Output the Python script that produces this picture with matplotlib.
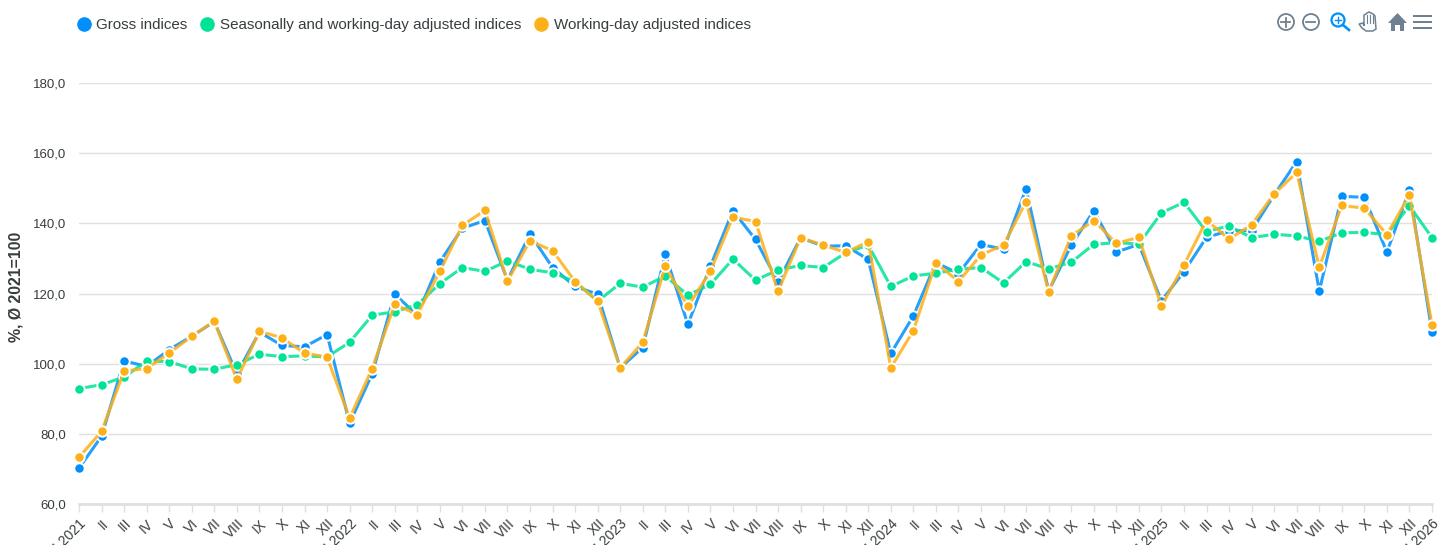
import matplotlib
matplotlib.use("Agg")
import matplotlib.pyplot as plt
from matplotlib.lines import Line2D
from matplotlib.patches import Circle, Polygon, Rectangle
from matplotlib.transforms import ScaledTranslation

plt.rcParams['font.family'] = ['Liberation Sans', 'DejaVu Sans']

MONTHS = ["I", "II", "III", "IV", "V", "VI", "VII", "VIII", "IX", "X", "XI", "XII"]
YEARS = [2021, 2022, 2023, 2024, 2025, 2026]

gross = [
    70.2, 79.3, 100.8, 99.2, 104, 107.8, 112, 97.1, 109, 105.2, 104.8, 108.3,
    83, 97.1, 119.8, 113.8, 129, 138.6, 140.8, 123.8, 137, 127.4, 122, 119.8,
    98.8, 104.6, 131.2, 111.2, 127.8, 143.6, 135.4, 123.3, 135.9, 133.5, 133.6, 129.7,
    102.9, 113.6, 128.8, 125.7, 134, 132.6, 149.9, 120.7, 133.7, 143.6, 131.8, 134,
    117.9, 126.2, 136, 137.9, 137.9, 148.1, 157.6, 120.7, 147.7, 147.4, 131.8, 149.5,
    109,
]
seasonal = [
    92.9, 94, 96.2, 100.7, 100.6, 98.5, 98.4, 99.7, 102.7, 102, 102.2, 101.9,
    106.1, 113.8, 114.8, 116.8, 122.8, 127.4, 126.3, 129.3, 126.9, 125.9, 123.4, 117.8,
    122.9, 121.8, 125, 119.5, 122.6, 129.8, 123.8, 126.7, 128, 127.4, 131.6, 133.8,
    122, 125, 125.8, 126.9, 127.4, 123, 129.1, 127, 128.9, 134, 134.5, 134.1,
    143, 146, 137.6, 139.3, 135.9, 136.9, 136.4, 134.9, 137.3, 137.4, 136.8, 145,
    135.9,
]
working_day = [
    73.3, 80.7, 97.9, 98.6, 103, 107.8, 112.1, 95.5, 109.2, 107.4, 103, 101.9,
    84.5, 98.6, 116.9, 114, 126.3, 139.4, 143.7, 123.5, 135, 132.2, 123.4, 117.8,
    98.8, 106.1, 127.8, 116.3, 126.3, 141.8, 140.5, 120.6, 135.9, 133.8, 131.7, 134.8,
    98.8, 109.4, 128.8, 123.4, 131, 133.8, 146.2, 120.4, 136.4, 140.8, 134.3, 136,
    116.4, 128.1, 140.9, 135.5, 139.6, 148.4, 154.5, 127.5, 145.1, 144.3, 136.8, 148,
    111,
]
series_names = ["Gross indices", "Seasonally and working-day adjusted indices", "Working-day adjusted indices"]
series_colors = ["#008FFB", "#00E396", "#FEB019"]
y_ticks = [60, 80, 100, 120, 140, 160, 180]

W, H = 1450, 545
TEXT = "#373d3f"
GRID = "#e0e0e0"
ICON = "#6e8192"


def tickLabels():
    labels = []
    for i in range(len(gross)):
        if i % 12 == 0:
            labels.append("I " + str(YEARS[i // 12]))
        else:
            labels.append(MONTHS[i % 12])
    return labels


def drawIcons(fig):
    # toolbar in the top right corner, pixel coordinates
    ov = fig.add_axes([0, 0, 1, 1], zorder=5)
    ov.set_xlim(0, W)
    ov.set_ylim(H, 0)
    ov.axis("off")
    # zoom in / zoom out
    for cx in (1286, 1311):
        ov.add_patch(Circle((cx, 22), 8, fill=False, ec=ICON, lw=1.3))
        ov.plot([cx - 4.5, cx + 4.5], [22, 22], color=ICON, lw=1.3)
    ov.plot([1286, 1286], [17.5, 26.5], color=ICON, lw=1.3)
    # selection zoom
    ov.add_patch(Circle((1338, 20), 6.5, fill=False, ec=series_colors[0], lw=1.6))
    ov.plot([1343, 1349], [25, 30], color=series_colors[0], lw=1.9)
    ov.plot([1335, 1341], [20, 20], color=series_colors[0], lw=1)
    ov.plot([1338, 1338], [17, 23], color=series_colors[0], lw=1)
    # pan hand
    hand = [(1359, 24), (1363, 23), (1364, 26), (1364, 15), (1366, 14), (1367, 13),
            (1369, 12), (1371, 13), (1373, 14), (1375, 16), (1376, 29), (1373, 31),
            (1366, 31), (1362, 28)]
    ov.add_patch(Polygon(hand, closed=True, fill=False, ec=ICON, lw=1.1))
    for fx in (1367, 1370.5, 1373):
        ov.plot([fx, fx], [15, 23], color=ICON, lw=0.8)
    # home
    ov.add_patch(Polygon([(1388, 23), (1397.5, 13), (1407, 23)], closed=True, color=ICON, lw=0))
    ov.add_patch(Polygon([(1391, 22), (1404, 22), (1404, 31), (1400, 31), (1400, 25),
                          (1395, 25), (1395, 31), (1391, 31)], closed=True, color=ICON, lw=0))
    # menu
    for my in (15.5, 22, 28):
        ov.add_patch(Rectangle((1413.5, my - 1), 19, 2, color=ICON, lw=0))


def plotChart():
    fig = plt.figure(figsize=(W / 100, H / 100), dpi=100, facecolor="white")
    ax = fig.add_axes([79 / W, 1 - 504 / H, (1432 - 79) / W, (504 - 83) / H])
    xs = list(range(len(gross)))
    data = [gross, seasonal, working_day]

    for j, values in enumerate(data):
        ax.plot(xs, values, color=series_colors[j], lw=2.2, alpha=0.85, zorder=3 + j * 2,
                clip_on=False, solid_joinstyle="miter")
        ax.plot(xs, values, ls="none", marker="o", ms=7.5, mfc=series_colors[j], mec="white",
                mew=1.4, zorder=4 + j * 2, clip_on=False)

    ax.set_xlim(0, len(gross) - 1)
    ax.set_ylim(60, 180)
    ax.set_yticks(y_ticks)
    ax.set_yticklabels([f"{v:.1f}".replace(".", ",") for v in y_ticks], fontsize=9.5, color=TEXT)
    ax.set_xticks(xs)
    ax.set_xticklabels(tickLabels(), fontsize=10, color=TEXT, rotation=45, ha="right",
                       rotation_mode="anchor")
    # rotated labels end just past their tick
    shift = ScaledTranslation(-3.5 / 100, 0, fig.dpi_scale_trans)
    for label in ax.get_xticklabels():
        label.set_transform(label.get_transform() + shift)
    ax.tick_params(axis="y", length=0, pad=9)
    ax.tick_params(axis="x", length=6, width=1, color=GRID, pad=3)
    ax.grid(axis="y", color=GRID, lw=1)
    ax.set_axisbelow(True)
    for side in ("top", "right", "left"):
        ax.spines[side].set_visible(False)
    ax.spines["bottom"].set_color(GRID)
    ax.spines["bottom"].set_linewidth(2)

    fig.text(16 / W, 1 - 287 / H, "%, Ø 2021=100", rotation=90, ha="center", va="center",
             fontsize=11.4, fontweight="bold", color=TEXT)

    handles = [Line2D([], [], ls="none", marker="o", ms=10.5, mfc=c, mec="none") for c in series_colors]
    fig.legend(handles, series_names, loc="upper left", bbox_to_anchor=(76 / W, 1 - 18 / H),
               ncol=3, frameon=False, fontsize=10.9, labelcolor=TEXT, handlelength=1.0,
               handletextpad=0.33, columnspacing=0.82, borderpad=0, borderaxespad=0)

    drawIcons(fig)
    fig.savefig("out.png", dpi=100)


plotChart()
